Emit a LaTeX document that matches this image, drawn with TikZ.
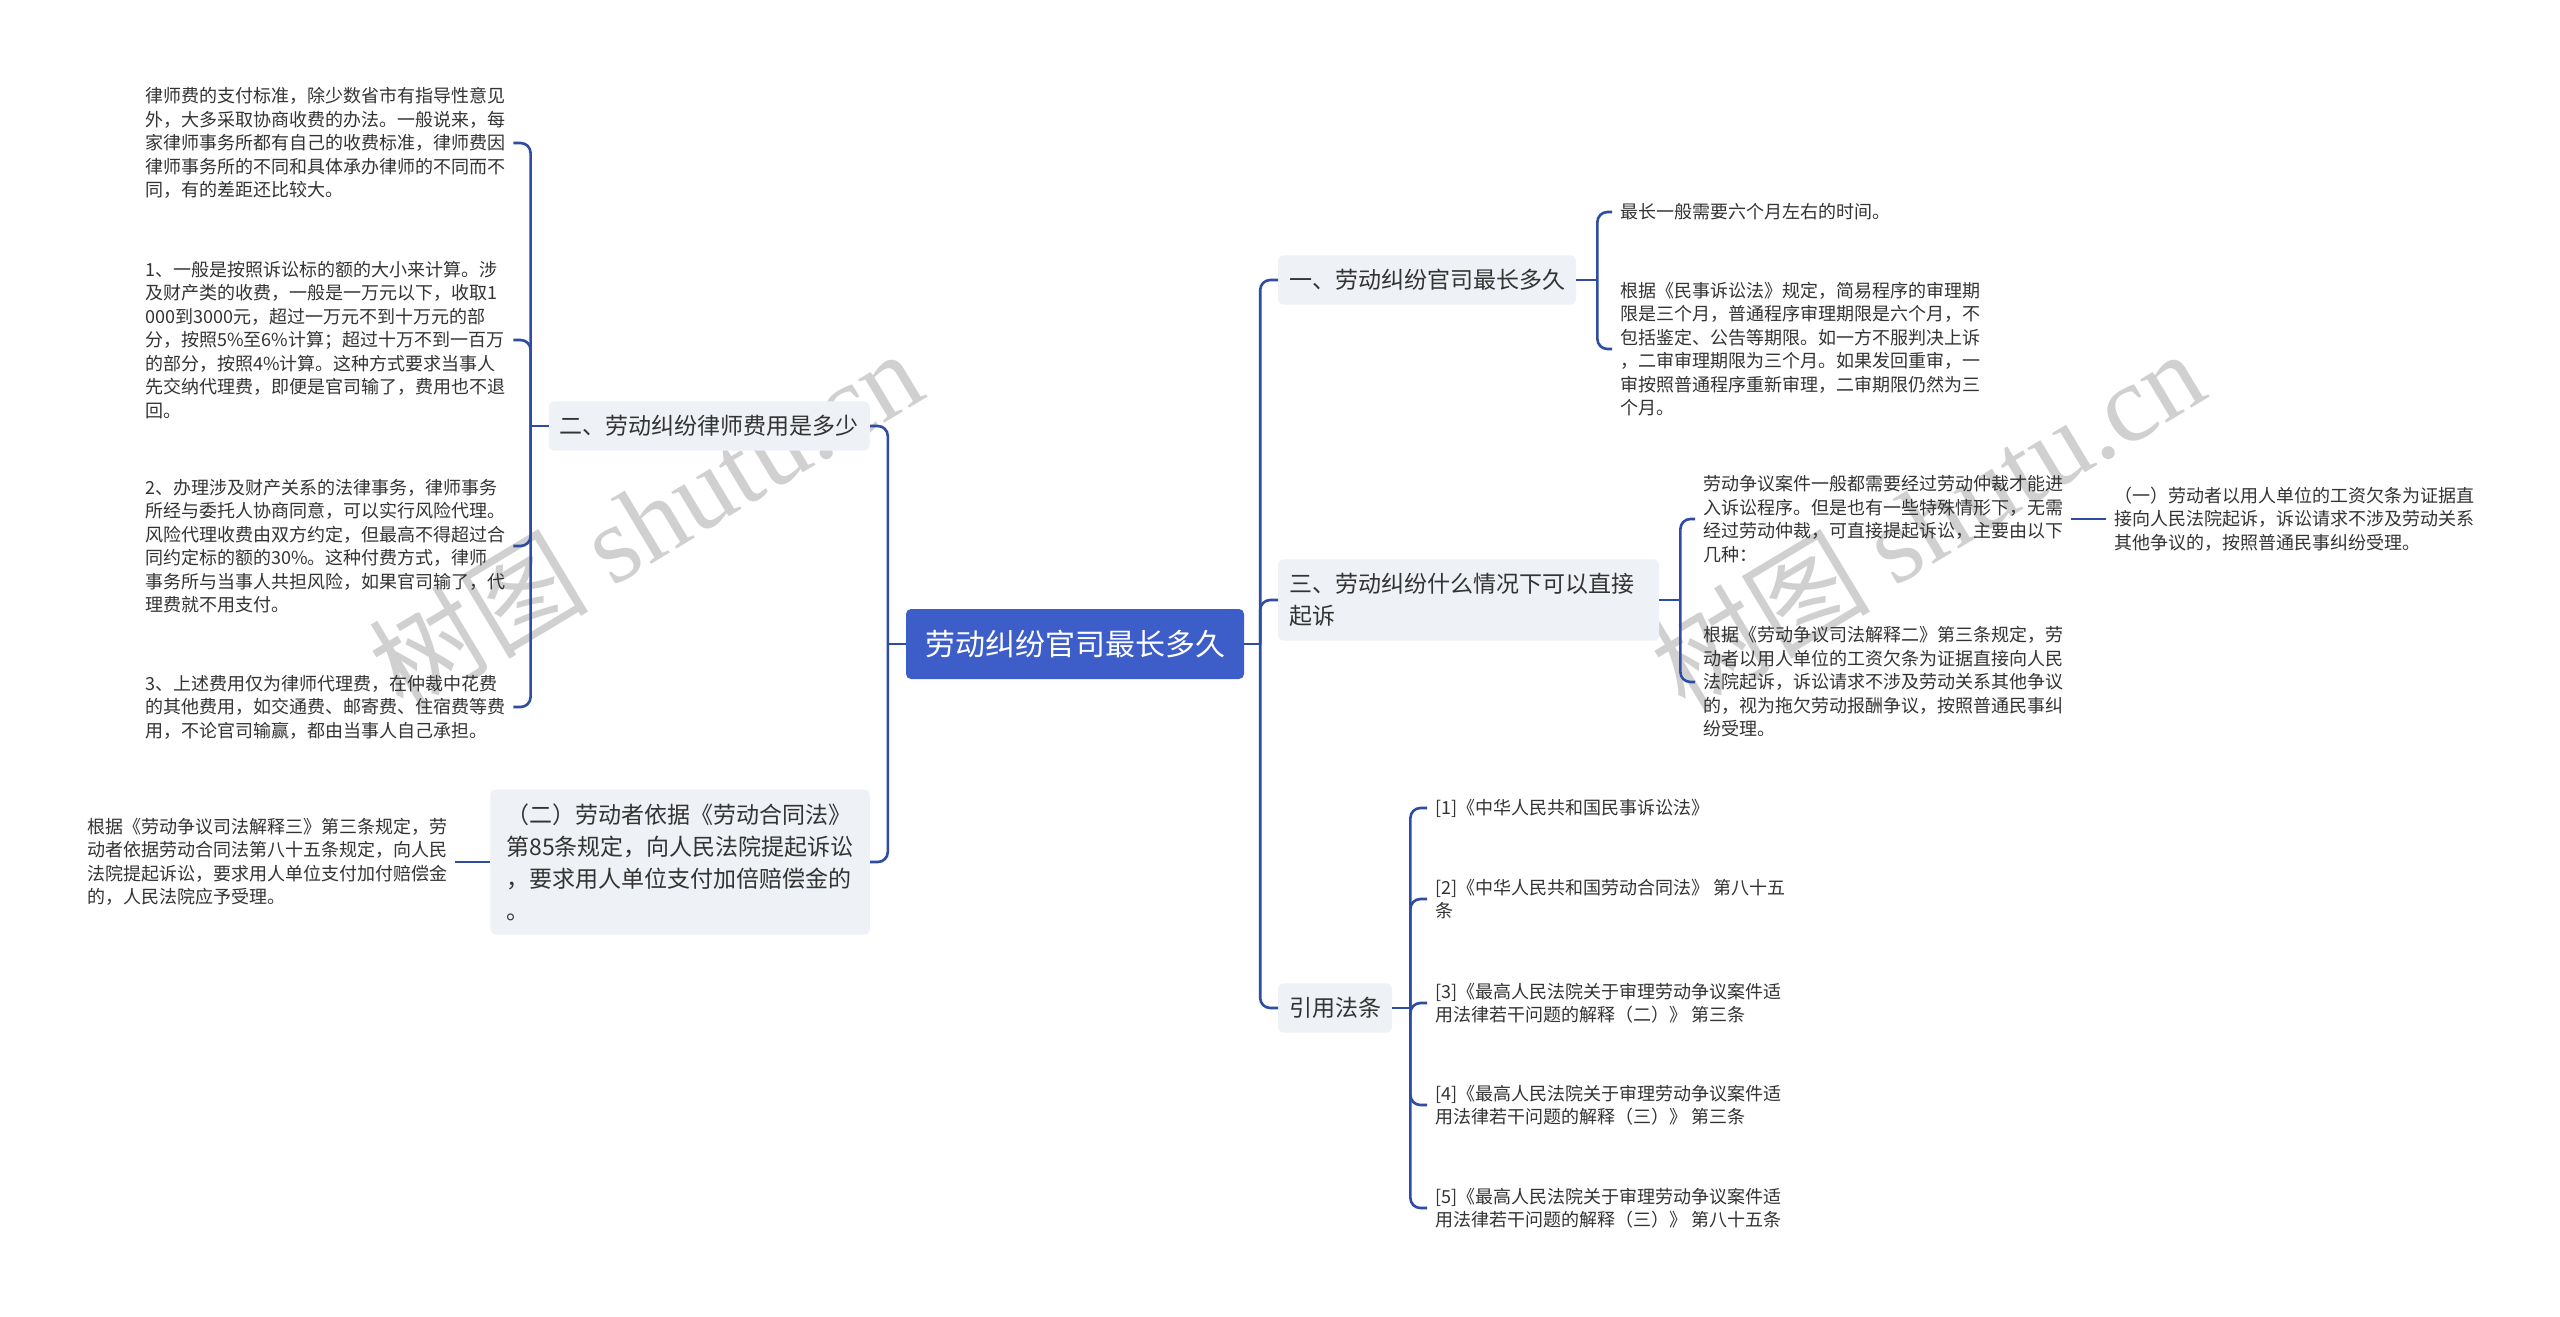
\documentclass[tikz,border=0pt]{standalone}
\usepackage{fontspec}
\setmainfont{Noto Sans CJK SC}
\newfontfamily\wmfont{Liberation Serif}
\usepackage{xcolor}
\usepackage{tikz}
\usetikzlibrary{calc}

\definecolor{linkblue}{RGB}{45,76,162}
\definecolor{rootblue}{RGB}{61,94,201}
\definecolor{boxgray}{RGB}{238,241,245}
\definecolor{textgray}{RGB}{51,51,51}
\definecolor{wmgray}{RGB}{208,208,208}

\begin{document}
\begin{tikzpicture}[x=1pt, y=-1pt,
    rootnode/.style={fill=rootblue, text=white, rounded corners=5pt,
        minimum width=338pt, minimum height=70pt, font=\fontsize{30}{36}\selectfont},
    topicbox/.style={fill=boxgray, text=textgray, rounded corners=6pt,
        inner xsep=11pt, inner ysep=14pt, align=left, font=\fontsize{23}{32}\selectfont},
    leaftext/.style={text=textgray, inner xsep=8pt, inner ysep=2pt,
        align=left, font=\fontsize{18}{23.5}\selectfont},
    linkline/.style={draw=linkblue, line width=2.6pt, rounded corners=10pt},
    wmtext/.style={text=wmgray, inner sep=0pt, font=\fontsize{110}{120}\selectfont}
]
    % Page size and background
    \useasboundingbox[fill=white] (0,0) rectangle (2560,1317);
    % Watermarks
    \node[wmtext, rotate=31] (wm1) at (645,519) {树图 {\wmfont shutu.cn}};
    \node[wmtext, rotate=31] (wm2) at (1927,519) {树图 {\wmfont shutu.cn}};

    % Central topic
    \node[rootnode] (root) at (1075,644) {劳动纠纷官司最长多久};

    % Left main topics
    \node[topicbox, anchor=east] (fee) at (870,426) {二、劳动纠纷律师费用是多少};
    \node[topicbox, anchor=east, inner xsep=16pt] (double) at (870,862)
        {（二）劳动者依据《劳动合同法》\\第85条规定，向人民法院提起诉讼\\，要求用人单位支付加倍赔偿金的\\。};

    % Right main topics
    \node[topicbox, anchor=west] (longest) at (1278,280) {一、劳动纠纷官司最长多久};
    \node[topicbox, anchor=west, text width=359pt] (direct) at (1278,600)
        {三、劳动纠纷什么情况下可以直接\\起诉};
    \node[topicbox, anchor=west] (laws) at (1278,1008) {引用法条};

    % Fee details
    \node[leaftext, anchor=west] (fee1) at (137,143)
        {律师费的支付标准，除少数省市有指导性意见\\外，大多采取协商收费的办法。一般说来，每\\家律师事务所都有自己的收费标准，律师费因\\律师事务所的不同和具体承办律师的不同而不\\同，有的差距还比较大。};
    \node[leaftext, anchor=west] (fee2) at (137,340)
        {1、一般是按照诉讼标的额的大小来计算。涉\\及财产类的收费，一般是一万元以下，收取1\\000到3000元，超过一万元不到十万元的部\\分，按照5\%至6\%计算；超过十万不到一百万\\的部分，按照4\%计算。这种方式要求当事人\\先交纳代理费，即便是官司输了，费用也不退\\回。};
    \node[leaftext, anchor=west] (fee3) at (137,546)
        {2、办理涉及财产关系的法律事务，律师事务\\所经与委托人协商同意，可以实行风险代理。\\风险代理收费由双方约定，但最高不得超过合\\同约定标的额的30\%。这种付费方式，律师\\事务所与当事人共担风险，如果官司输了，代\\理费就不用支付。};
    \node[leaftext, anchor=west] (fee4) at (137,707)
        {3、上述费用仅为律师代理费，在仲裁中花费\\的其他费用，如交通费、邮寄费、住宿费等费\\用，不论官司输赢，都由当事人自己承担。};
    \node[leaftext, anchor=west] (double1) at (79,862)
        {根据《劳动争议司法解释三》第三条规定，劳\\动者依据劳动合同法第八十五条规定，向人民\\法院提起诉讼，要求用人单位支付加付赔偿金\\的，人民法院应予受理。};

    % Duration details
    \node[leaftext, anchor=west] (long1) at (1612,212) {最长一般需要六个月左右的时间。};
    \node[leaftext, anchor=west] (long2) at (1612,349)
        {根据《民事诉讼法》规定，简易程序的审理期\\限是三个月，普通程序审理期限是六个月，不\\包括鉴定、公告等期限。如一方不服判决上诉\\，二审审理期限为三个月。如果发回重审，一\\审按照普通程序重新审理，二审期限仍然为三\\个月。};

    % Direct suit details
    \node[leaftext, anchor=west] (direct1) at (1695,519)
        {劳动争议案件一般都需要经过劳动仲裁才能进\\入诉讼程序。但是也有一些特殊情形下，无需\\经过劳动仲裁，可直接提起诉讼，主要由以下\\几种：};
    \node[leaftext, anchor=west] (direct2) at (1695,682)
        {根据《劳动争议司法解释二》第三条规定，劳\\动者以用人单位的工资欠条为证据直接向人民\\法院起诉，诉讼请求不涉及劳动关系其他争议\\的，视为拖欠劳动报酬争议，按照普通民事纠\\纷受理。};
    \node[leaftext, anchor=west] (wage) at (2106,519)
        {（一）劳动者以用人单位的工资欠条为证据直\\接向人民法院起诉，诉讼请求不涉及劳动关系\\其他争议的，按照普通民事纠纷受理。};

    % Cited laws
    \node[leaftext, anchor=west] (law1) at (1427,808) {[1]《中华人民共和国民事诉讼法》};
    \node[leaftext, anchor=west] (law2) at (1427,899) {[2]《中华人民共和国劳动合同法》 第八十五\\条};
    \node[leaftext, anchor=west] (law3) at (1427,1003)
        {[3]《最高人民法院关于审理劳动争议案件适\\用法律若干问题的解释（二）》 第三条};
    \node[leaftext, anchor=west] (law4) at (1427,1105)
        {[4]《最高人民法院关于审理劳动争议案件适\\用法律若干问题的解释（三）》 第三条};
    \node[leaftext, anchor=west] (law5) at (1427,1208)
        {[5]《最高人民法院关于审理劳动争议案件适\\用法律若干问题的解释（三）》 第八十五条};

    % Junction points
    \coordinate (rootL) at ($(root.west)+(-18,0)$);
    \coordinate (rootR) at ($(root.east)+(16,0)$);
    \coordinate (feeJ) at ($(fee.west)+(-18,0)$);
    \coordinate (longJ) at ($(longest.east)+(21,0)$);
    \coordinate (directJ) at ($(direct.east)+(21,0)$);
    \coordinate (lawsJ) at ($(laws.east)+(18,0)$);

    % Draw connectors
    \draw[linkline] (root.west) -- (rootL);
    \draw[linkline] (root.east) -- (rootR);
    \foreach \n in {fee,double} {
        \draw[linkline] (rootL) |- (\n.east);
    }
    \foreach \n in {longest,direct,laws} {
        \draw[linkline] (rootR) |- (\n.west);
    }
    \draw[linkline] (fee.west) -- (feeJ);
    \foreach \n in {fee1,fee2,fee3,fee4} {
        \draw[linkline] (feeJ) |- (\n.east);
    }
    \draw[linkline] (double.west) -- (double1.east);
    \draw[linkline] (longest.east) -- (longJ);
    \foreach \n in {long1,long2} {
        \draw[linkline] (longJ) |- (\n.west);
    }
    \draw[linkline] (direct.east) -- (directJ);
    \foreach \n in {direct1,direct2} {
        \draw[linkline] (directJ) |- (\n.west);
    }
    \draw[linkline] (direct1.east) -- (wage.west);
    \draw[linkline] (laws.east) -- (lawsJ);
    \foreach \n in {law1,law2,law3,law4,law5} {
        \draw[linkline] (lawsJ) |- (\n.west);
    }
\end{tikzpicture}
\end{document}
